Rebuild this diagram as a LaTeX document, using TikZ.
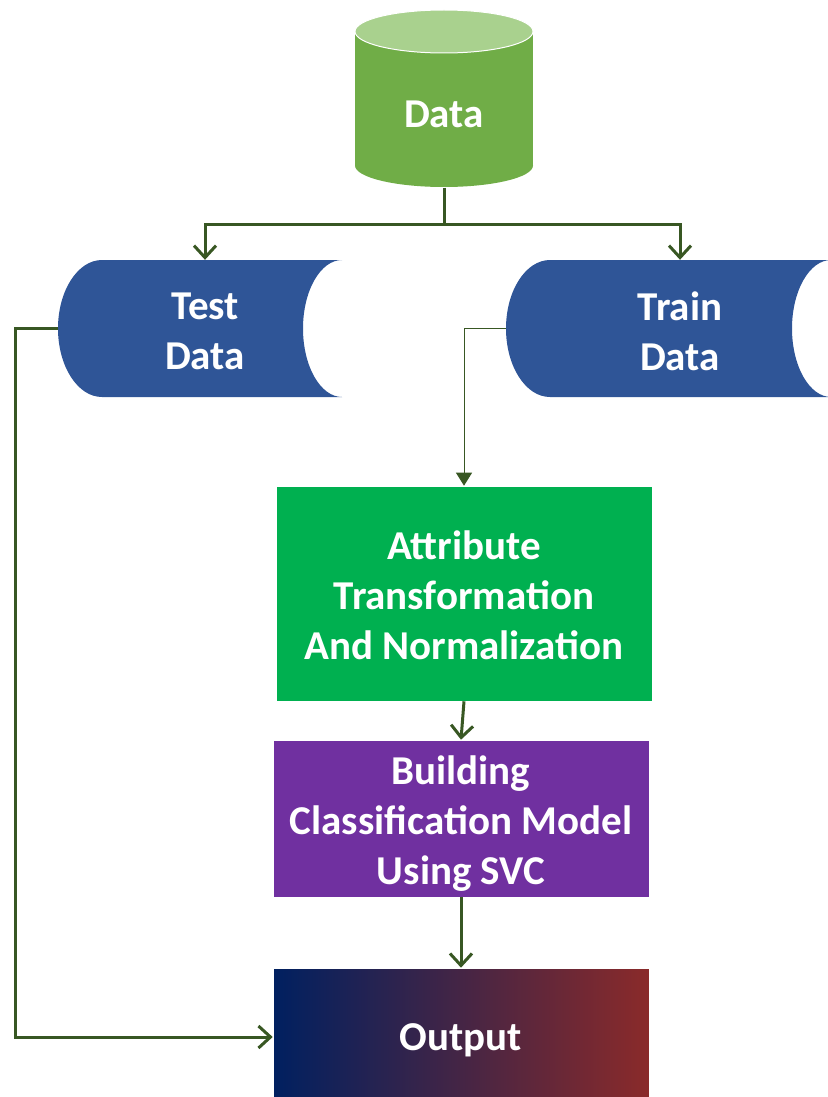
\documentclass[tikz,border=0pt]{standalone}
\usepackage{fontspec}
\setmainfont{Carlito}
\usetikzlibrary{arrows.meta}

\definecolor{link}{HTML}{385723}
\definecolor{cylbody}{HTML}{70AD47}
\definecolor{cyltop}{HTML}{A9D18E}
\definecolor{storeblue}{HTML}{2F5597}
\definecolor{attrgreen}{HTML}{00B050}
\definecolor{buildpurple}{HTML}{7030A0}
\definecolor{outblue}{HTML}{002060}
\definecolor{outred}{HTML}{8A2A2A}

\begin{document}
\begin{tikzpicture}[x=1pt,y=-1pt,
  boxtext/.style={text=white, font=\bfseries\fontsize{41}{50}\selectfont, align=center, inner sep=0pt},
  frame/.style={inner sep=0pt},
  procbox/.style={frame, minimum width=376pt, draw=white, line width=0.6pt},
  conn/.style={draw=link, line width=3pt, -{Straight Barb[length=12pt,width=22pt]}},
  thinconn/.style={draw=link, line width=1pt, -{Triangle[length=13pt,width=16pt]}},
]
\useasboundingbox (0,0) rectangle (827,1097);

% database cylinder
\fill[cylbody] (355,31.5) rectangle (533,165.5);
\fill[cylbody] (444,165.5) ellipse[x radius=89pt, y radius=21.5pt];
\filldraw[fill=cyltop, draw=white, line width=1pt] (444,31.5) ellipse[x radius=89pt, y radius=21.5pt];
\node[frame, minimum width=178pt, minimum height=176pt] (data) at (444,99.5) {};
\node[boxtext] (datalabel) at (444,114) {Data};

% stored data shapes
\fill[storeblue] (102,260) -- (342,260) .. controls (320.5,260) and (303,290.7) .. (303,328.5)
  .. controls (303,366.3) and (320.5,397) .. (342,397) -- (102,397)
  .. controls (77.7,397) and (58,366.3) .. (58,328.5)
  .. controls (58,290.7) and (77.7,260) .. (102,260) -- cycle;
\fill[storeblue] (550,260) -- (831,260) .. controls (809.5,260) and (792,290.7) .. (792,328.5)
  .. controls (792,366.3) and (809.5,397) .. (831,397) -- (550,397)
  .. controls (525.7,397) and (506,366.3) .. (506,328.5)
  .. controls (506,290.7) and (525.7,260) .. (550,260) -- cycle;
\node[frame, minimum width=294pt, minimum height=137pt] (test) at (205,328.5) {};
\node[frame, minimum width=348pt, minimum height=137pt] (train) at (680,328.5) {};
\node[boxtext] (testlabel) at (205,331.5) {Test\\Data};
\node[boxtext] (trainlabel) at (680,331.5) {Train\\Data};

% processing steps
\node[procbox, fill=attrgreen, minimum height=215pt] (attr) at (464,593.5) {};
\node[procbox, fill=buildpurple, minimum height=157pt] (build) at (461,818.5) {};
\node[procbox, left color=outblue, right color=outred, minimum height=138pt] (output) at (461,1037) {};
\node[boxtext] (attrlabel) at (464,595.5) {Attribute\\Transformation\\And Normalization};
\node[boxtext] (buildlabel) at (461,824) {Building\\Classification Model\\Using SVC};
\node[boxtext] (outputlabel) at (461,1040) {Output};

% connectors
\draw[conn] (data.south) -- ++(0,37) coordinate (split) -| (test.north);
\draw[conn] (split) -| (train.north);
\draw[thinconn] (train.west) -| (attr.north);
\draw[conn] (attr.south) -- (build.north);
\draw[conn] (build.south) -- (output.north);
\draw[conn] (test.west) -- ++(-42,0) |- (output.west);
\end{tikzpicture}
\end{document}
